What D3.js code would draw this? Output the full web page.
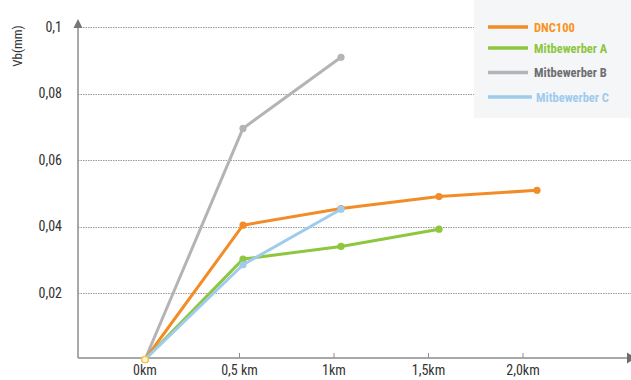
<!DOCTYPE html>
<html><head><meta charset="utf-8">
<script src="https://cdn.jsdelivr.net/npm/d3@7"></script>
<style>body{margin:0;background:#fff}svg{display:block}</style>
</head><body>
<svg id="c" width="631" height="380"></svg>
<script>
const distances = [0, 0.5, 1, 1.5, 2.0];
const tickLabels = ["0km", "0,5 km", "1km", "1,5km", "2,0km"];
const yTicks = [0.02, 0.04, 0.06, 0.08, 0.1];
const yTickLabels = ["0,02", "0,04", "0,06", "0,08", "0,1"];
const seriesNames = ["DNC100", "Mitbewerber A", "Mitbewerber B", "Mitbewerber C"];
const dnc100 = [0, 0.0404, 0.0454, 0.049, 0.0509];
const mitbewerberA = [0, 0.0302, 0.034, 0.0392];
const mitbewerberB = [0, 0.0695, 0.0909];
const mitbewerberC = [0, 0.0285, 0.0452];
const lineColors = ["#f28c28", "#8dc63f", "#b4b4b8", "#9fcbec"];
const textColors = ["#f7941d", "#8dc63f", "#6d6e71", "#9fcbec"];

const svg = d3.select("#c");
const font = "'Liberation Sans Narrow','Roboto Condensed','Liberation Sans',Arial,sans-serif";

const y = d3.scaleLinear().domain([0, 0.1]).range([359.5, 27]);
const xTick = d3.scaleLinear().domain([0, 2]).range([145, 523]);
const xData = d3.scaleLinear().domain([0, 2]).range([145, 537]);
const axisX = 78, axisY = 358;

// gridlines
svg.append("g").selectAll("line").data(yTicks).join("line")
  .attr("x1", axisX).attr("x2", 631)
  .attr("y1", d => Math.round(y(d)) + 0.5).attr("y2", d => Math.round(y(d)) + 0.5)
  .attr("stroke", "#9a9a9a").attr("stroke-width", 1).attr("stroke-dasharray", "1.5,1");

// legend background
svg.append("rect").attr("x", 474).attr("y", 0).attr("width", 157).attr("height", 118).attr("fill", "#f5f6f8");

// axes
const axisColor = "#8c8c90";
svg.append("line").attr("x1", axisX).attr("x2", axisX).attr("y1", 26).attr("y2", axisY)
  .attr("stroke", axisColor).attr("stroke-width", 1.5);
svg.append("line").attr("x1", axisX).attr("x2", 628).attr("y1", axisY).attr("y2", axisY)
  .attr("stroke", axisColor).attr("stroke-width", 1.5);
svg.append("path").attr("d", `M${axisX},19 L${axisX-4.5},28 L${axisX+4.5},28 Z`).attr("fill", "#77777b");
svg.append("path").attr("d", `M627,352.5 L636,${axisY} L627,363.5 Z`).attr("fill", "#6d6d71");

// x ticks
svg.append("g").selectAll("line").data(distances.slice(1)).join("line")
  .attr("x1", d => xTick(d)).attr("x2", d => xTick(d)).attr("y1", axisY - 5).attr("y2", axisY)
  .attr("stroke", axisColor).attr("stroke-width", 1);
svg.append("g").selectAll("text").data(distances).join("text")
  .attr("x", d => xTick(d)).attr("y", 375).attr("text-anchor", "middle")
  .attr("font-family", font).attr("font-size", 14).attr("fill", "#333")
  .text((d, i) => tickLabels[i]);

// y tick labels
svg.append("g").selectAll("text").data(yTicks).join("text")
  .attr("x", 62).attr("y", d => y(d) + 4.5).attr("text-anchor", "end")
  .attr("font-family", font).attr("font-size", 14).attr("fill", "#333")
  .text((d, i) => yTickLabels[i]);

svg.append("text").attr("transform", "translate(22,46) rotate(-90)").attr("text-anchor", "middle")
  .attr("font-family", font).attr("font-size", 13).attr("fill", "#333").text("Vb(mm)");

// series
const allSeries = [dnc100, mitbewerberA, mitbewerberB, mitbewerberC];
const drawOrder = [2, 0, 1, 3];
const line = d3.line().x((d, i) => xData(distances[i])).y(d => y(d));
drawOrder.forEach(si => {
  const vals = allSeries[si];
  const g = svg.append("g");
  g.append("path").datum(vals).attr("d", line).attr("fill", "none")
    .attr("stroke", lineColors[si]).attr("stroke-width", 3).attr("stroke-linejoin", "round");
  g.selectAll("circle").data(vals).join("circle")
    .attr("cx", (d, i) => xData(distances[i])).attr("cy", d => y(d)).attr("r", 3.6)
    .attr("fill", lineColors[si]);
});
// origin marker
svg.append("circle").attr("cx", xData(0)).attr("cy", y(0)).attr("r", 3.2)
  .attr("fill", "#fdf1c8").attr("stroke", "#f6c443").attr("stroke-width", 1.2);

// legend
const legY = [27, 48, 72.5, 97];
const lg = svg.append("g").selectAll("g").data(seriesNames).join("g");
lg.append("line").attr("x1", 488).attr("x2", (d, i) => i === 3 ? 532 : 528)
  .attr("y1", (d, i) => legY[i]).attr("y2", (d, i) => legY[i])
  .attr("stroke", (d, i) => lineColors[i]).attr("stroke-width", 3.5);
lg.append("text").attr("x", (d, i) => i === 3 ? 536 : 534).attr("y", (d, i) => legY[i] + 4.5)
  .attr("font-family", font).attr("font-size", 12.5).attr("font-weight", "bold")
  .attr("fill", (d, i) => textColors[i]).text(d => d);
</script>
</body></html>
